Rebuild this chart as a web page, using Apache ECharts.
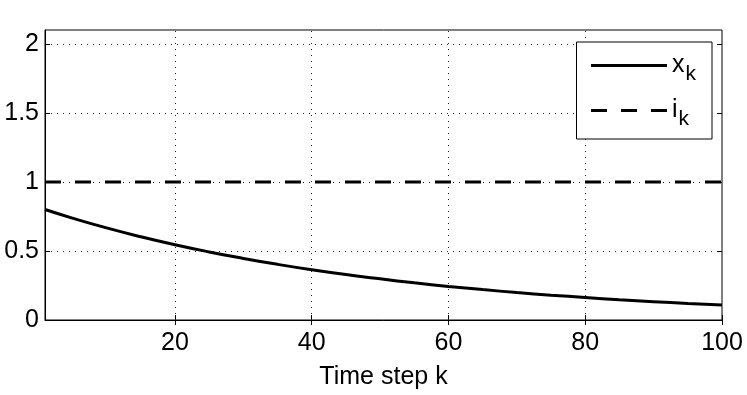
<!DOCTYPE html>
<html>
<head>
<meta charset="utf-8">
<script src="https://cdn.jsdelivr.net/npm/echarts@6/dist/echarts.min.js"></script>
<style>
  html, body { margin: 0; padding: 0; background: #fff; }
  #chart { width: 747px; height: 395px; }
</style>
</head>
<body>
<div id="chart"></div>
<script>
// 读图得到的数据
const steps = [1, 5, 10, 15, 20, 25, 30, 35, 40, 45, 50, 55, 60, 65, 70, 75, 80, 85, 90, 95, 100]
const xValues = [0.80, 0.738, 0.667, 0.603, 0.545, 0.493, 0.446, 0.403, 0.364, 0.329, 0.298,
  0.269, 0.243, 0.220, 0.199, 0.180, 0.163, 0.147, 0.133, 0.120, 0.109]
const iSteps = [1, 100]
const iValues = [1, 1]
const xTicks = [20, 40, 60, 80, 100]
const yTicks = [0, 0.5, 1, 1.5, 2]

const font = 'Liberation Sans'
const dotted = { color: '#222', width: 1, type: [1, 5] }

const chart = echarts.init(document.getElementById('chart'))
const option = {
  animation: false,
  grid: { left: 45, right: 25, top: 30, bottom: 74, show: true, borderColor: '#000', borderWidth: 1 },
  xAxis: [{
    type: 'value', min: 1, max: 100,
    name: 'Time step k', nameLocation: 'middle', nameGap: 45,
    nameTextStyle: { fontFamily: font, fontSize: 25, color: '#000' },
    axisLine: { lineStyle: { color: '#000', width: 1 } },
    axisTick: { inside: true, length: 5, customValues: xTicks, lineStyle: { color: '#000' } },
    axisLabel: { customValues: xTicks, fontFamily: font, fontSize: 25, color: '#000', margin: 11 },
    splitLine: { show: false }
  }, {
    type: 'value', min: 1, max: 100, position: 'top',
    axisLine: { show: false },
    axisTick: { inside: true, length: 5, customValues: xTicks, lineStyle: { color: '#000' } },
    axisLabel: { show: false },
    splitLine: { show: false }
  }],
  yAxis: [{
    type: 'value', min: 0, max: 2.1, interval: 0.5,
    axisLine: { show: true, lineStyle: { color: '#000', width: 1 } },
    axisTick: { show: true, inside: true, length: 5, customValues: yTicks, lineStyle: { color: '#000' } },
    axisLabel: { customValues: yTicks, fontFamily: font, fontSize: 25, color: '#000', margin: 6 },
    splitLine: { show: true, lineStyle: dotted }
  }, {
    type: 'value', min: 0, max: 2.1, position: 'right',
    axisLine: { show: false },
    axisTick: { show: true, inside: true, length: 5, customValues: yTicks, lineStyle: { color: '#000' } },
    axisLabel: { show: false },
    splitLine: { show: false }
  }],
  legend: {
    orient: 'vertical', right: 35, top: 42,
    backgroundColor: '#fff', borderColor: '#000', borderWidth: 1,
    padding: [11, 16, 9, 13], itemGap: 13,
    itemWidth: 76, itemHeight: 16,
    itemStyle: { opacity: 0 },
    lineStyle: { width: 3 },
    formatter: (name) => name === 'x_k' ? '{a|x}{b|k}' : '{a|i}{b|k}',
    textStyle: {
      fontFamily: font, color: '#000',
      rich: {
        a: { fontFamily: font, fontSize: 25, color: '#000' },
        b: { fontFamily: font, fontSize: 21, color: '#000', padding: [18, 0, 0, 1] }
      }
    },
    data: ['x_k', 'i_k']
  },
  series: [
    {
      name: 'i_k', type: 'line', showSymbol: false, symbol: 'none', z: 3,
      data: iSteps.map((k, i) => [k, iValues[i]]),
      lineStyle: { color: '#000', width: 3, type: [16, 14] },
      itemStyle: { color: '#000' }
    },
    {
      name: 'x_k', type: 'line', showSymbol: false, symbol: 'none', smooth: true, z: 3,
      data: steps.map((k, i) => [k, xValues[i]]),
      lineStyle: { color: '#000', width: 3 },
      itemStyle: { color: '#000' },
      markLine: {
        silent: true, symbol: 'none', label: { show: false }, z: 1,
        lineStyle: dotted,
        data: xTicks.slice(0, 4).map(v => ({ xAxis: v }))
      }
    }
  ]
}
chart.setOption(option)
</script>
</body>
</html>
